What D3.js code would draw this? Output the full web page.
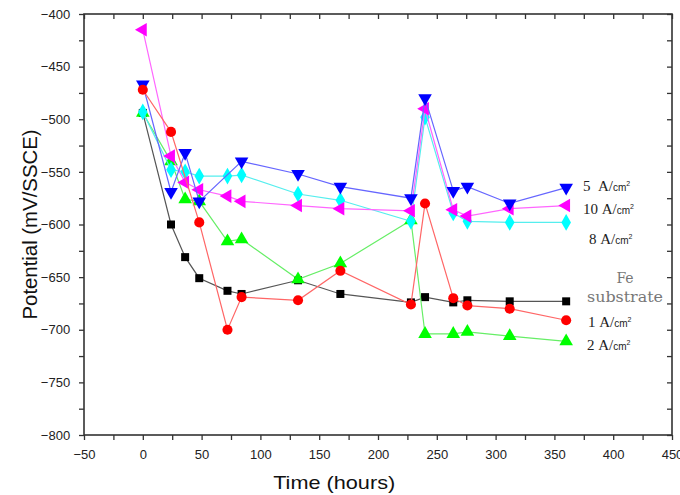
<!DOCTYPE html>
<html>
<head>
<meta charset="utf-8">
<script src="https://cdn.jsdelivr.net/npm/d3@7"></script>
<style>
  body { margin: 0; background: #fff; }
  svg { display: block; }
</style>
</head>
<body>
<div id="svg-container"></div>
<script>
// data
const feTimes = [0, 24, 36, 48, 72, 84, 132, 168, 228, 240, 264, 276, 312, 360];
const feValues = [-494, -600, -631, -651, -663, -666, -653, -666, -674, -669, -674, -672, -673, -673];

const a1Times = [0, 24, 48, 72, 84, 132, 168, 228, 240, 264, 276, 312, 360];
const a1Values = [-472, -512, -598, -700, -669, -672, -644, -676, -580, -670, -677, -680, -691];

const a2Times = [0, 24, 36, 48, 72, 84, 132, 168, 228, 240, 264, 276, 312, 360];
const a2Values = [-494, -540, -576, -578, -616, -614, -652, -637, -596, -704, -704, -702, -706, -711];

const a5Times = [0, 24, 36, 48, 84, 132, 168, 228, 240, 264, 276, 312, 360];
const a5Values = [-467, -569, -532, -578, -540, -552, -564, -575, -480, -568, -564, -580, -565];

const a8Times = [0, 24, 36, 48, 72, 84, 132, 168, 228, 240, 264, 276, 312, 360];
const a8Values = [-493, -548, -550, -554, -554, -553, -571, -577, -597, -498, -589, -597, -598, -598];

const a10Times = [0, 24, 36, 48, 72, 84, 132, 168, 228, 240, 264, 276, 312, 360];
const a10Values = [-415, -535, -560, -567, -573, -578, -582, -585, -587, -490, -586, -592, -585, -582];

const xTicks = [-50, 0, 50, 100, 150, 200, 250, 300, 350, 400, 450];
const yTicks = [-400, -450, -500, -550, -600, -650, -700, -750, -800];

const width = 680, height = 495;
const margin = { top: 14, right: 8, bottom: 60, left: 84 };

const svg = d3.select("#svg-container").append("svg")
  .attr("width", width).attr("height", height);

const x = d3.scaleLinear().domain([-50, 450]).range([margin.left, width - margin.right]);
const y = d3.scaleLinear().domain([-800, -400]).range([height - margin.bottom, margin.top]);

const fmt = (d) => String(d).replace("-", "\u2212");
const axisColor = "#333";

// axes (left/bottom ticks outward, top/right inward)
const minorX = d3.range(-50, 451, 25);
const minorY = d3.range(-800, -399, 25);

const gx = svg.append("g")
  .attr("transform", `translate(0,${height - margin.bottom})`)
  .call(d3.axisBottom(x).tickValues(minorX).tickSize(5).tickFormat((d) => xTicks.includes(d) ? fmt(d) : ""));
gx.selectAll("text")
  .style("font-family", "'Liberation Sans', Arial, sans-serif")
  .style("font-size", "13px")
  .attr("dy", "1.25em");

const gy = svg.append("g")
  .attr("transform", `translate(${margin.left},0)`)
  .call(d3.axisLeft(y).tickValues(minorY).tickSize(5).tickFormat((d) => yTicks.includes(d) ? fmt(d) : ""));
gy.selectAll("text")
  .style("font-family", "'Liberation Sans', Arial, sans-serif")
  .style("font-size", "13px")
  .attr("dx", "-0.45em");

svg.append("g")
  .attr("transform", `translate(0,${margin.top})`)
  .call(d3.axisBottom(x).tickValues(minorX).tickSize(5).tickFormat(""));
svg.append("g")
  .attr("transform", `translate(${width - margin.right},0)`)
  .call(d3.axisLeft(y).tickValues(minorY).tickSize(5).tickFormat(""));

svg.selectAll(".domain").remove();
svg.selectAll(".tick line").attr("stroke", axisColor).attr("stroke-width", 1.3);
svg.selectAll(".tick text").attr("fill", "#222");

svg.append("rect")
  .attr("x", margin.left).attr("y", margin.top)
  .attr("width", width - margin.left - margin.right)
  .attr("height", height - margin.top - margin.bottom)
  .attr("fill", "none").attr("stroke", axisColor).attr("stroke-width", 1.6);

// axis titles
svg.append("text")
  .attr("x", x(150) + 15).attr("y", 489)
  .attr("text-anchor", "middle")
  .attr("font-family", "'Liberation Sans', Arial, sans-serif")
  .attr("font-size", 19).attr("fill", "#111")
  .attr("textLength", 122).attr("lengthAdjust", "spacingAndGlyphs")
  .text("Time (hours)");

svg.append("text")
  .attr("transform", `translate(37,${(margin.top + height - margin.bottom) / 2}) rotate(-90)`)
  .attr("text-anchor", "middle")
  .attr("font-family", "'Liberation Sans', Arial, sans-serif")
  .attr("font-size", 20).attr("fill", "#111")
  .attr("textLength", 190).attr("lengthAdjust", "spacingAndGlyphs")
  .text("Potential (mV/SSCE)");

// series
const series = [
  { times: feTimes, values: feValues, fill: "#000000", line: "#555555", shape: "square" },
  { times: a2Times, values: a2Values, fill: "#00ff00", line: "#66ee66", shape: "up" },
  { times: a8Times, values: a8Values, fill: "#00ffff", line: "#55eeee", shape: "diamond" },
  { times: a10Times, values: a10Values, fill: "#ff00ff", line: "#ff66ff", shape: "left" },
  { times: a5Times, values: a5Values, fill: "#0000ff", line: "#6666ff", shape: "down" },
  { times: a1Times, values: a1Values, fill: "#ff0000", line: "#ff6666", shape: "circle" },
];

const line = d3.line().x((d) => x(d[0])).y((d) => y(d[1]));

const symbolPath = {
  square: d3.symbol().type(d3.symbolSquare).size(64)(),
  circle: d3.symbol().type(d3.symbolCircle).size(80)(),
  diamond: d3.symbol().type(d3.symbolDiamond).size(80)(),
  up: d3.symbol().type(d3.symbolTriangle).size(80)(),
  down: d3.symbol().type(d3.symbolTriangle).size(80)(),
  left: d3.symbol().type(d3.symbolTriangle).size(80)(),
};
const rotation = { square: 0, circle: 0, diamond: 0, up: 0, down: 180, left: -90 };

series.forEach((s) => {
  const pts = s.times.map((t, i) => [t, s.values[i]]);
  svg.append("path")
    .datum(pts)
    .attr("d", line)
    .attr("fill", "none")
    .attr("stroke", s.line)
    .attr("stroke-width", 1.2);
  svg.append("g")
    .selectAll("path")
    .data(pts)
    .enter()
    .append("path")
    .attr("d", symbolPath[s.shape])
    .attr("transform", (d) => `translate(${x(d[0])},${y(d[1])}) rotate(${rotation[s.shape]})`)
    .attr("fill", s.fill);
});

// right-side labels
const labels = [
  { text: "5", x: 583, y: 191 },
  { text: "10", x: 583, y: 214 },
  { text: "8", x: 589, y: 244 },
  { text: "1", x: 588, y: 327 },
  { text: "2", x: 587, y: 350 },
];
labels.forEach((l) => {
  const t = svg.append("text")
    .attr("x", l.x).attr("y", l.y)
    .attr("font-family", "'Liberation Serif', 'Times New Roman', serif")
    .attr("font-size", 15).attr("fill", "#222");
  t.append("tspan").text(l.text + (l.text === "5" ? "\u00a0\u00a0" : "\u00a0") + "A/");
  t.append("tspan").attr("font-family", "'Liberation Sans', sans-serif").attr("font-size", 10).text("cm");
  t.append("tspan").attr("font-family", "'Liberation Sans', sans-serif").attr("font-size", 7).attr("dy", -5).text("2");
});

svg.append("text")
  .attr("x", 625).attr("y", 283).attr("text-anchor", "middle")
  .attr("font-family", "'DejaVu Serif', serif").attr("font-size", 14).attr("fill", "#777")
  .text("Fe");
svg.append("text")
  .attr("x", 625).attr("y", 302).attr("text-anchor", "middle")
  .attr("font-family", "'DejaVu Serif', serif").attr("font-size", 14).attr("fill", "#777")
  .attr("textLength", 76).attr("lengthAdjust", "spacingAndGlyphs")
  .text("substrate");
</script>
</body>
</html>
